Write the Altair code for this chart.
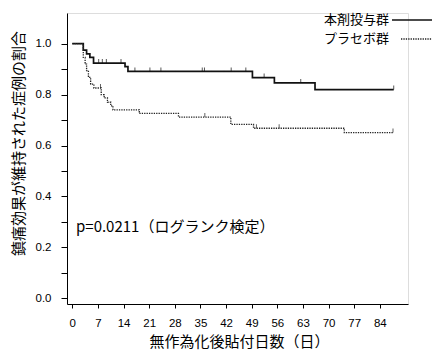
import altair as alt
import pandas as pd

groups = ["本剤投与群", "プラセボ群"]

drug_days = [0, 3.0, 3.9, 4.8, 5.8, 14.4, 15.2, 49.2, 55.2, 66.3, 87.8]
drug_surv = [1.0, 0.975, 0.960, 0.946, 0.924, 0.910, 0.891, 0.867, 0.846, 0.820, 0.820]
drug_cens_days = [7.2, 8.2, 9.3, 13.3, 17.1, 21.2, 24.2, 35.5, 36.1, 43.4, 47.4, 52.4, 62.4, 87.8]

placebo_days = [0, 3.0, 3.5, 3.9, 4.4, 5.0, 5.9, 7.9, 8.7, 9.6, 10.5, 11.1, 18.3, 29.0, 43.3, 49.5, 74.3, 87.6]
placebo_surv = [1.0, 0.946, 0.920, 0.894, 0.868, 0.841, 0.826, 0.800, 0.787, 0.770, 0.756, 0.740, 0.726, 0.712, 0.683, 0.668, 0.651, 0.651]
placebo_cens_days = [7.7, 36.2, 50.3, 56.5, 87.6]

x_ticks = [0, 7, 14, 21, 28, 35, 42, 49, 56, 63, 70, 77, 84]
y_ticks = [0.0, 0.1, 0.2, 0.3, 0.4, 0.5, 0.6, 0.7, 0.8, 0.9, 1.0]

p_text = "p=0.0211（ログランク検定）"
x_title = "無作為化後貼付日数（日）"
y_title = "鎮痛効果が維持された症例の割合"


def step_value(days, surv, d):
    v = surv[0]
    for dd, s in zip(days, surv):
        if dd <= d:
            v = s
    return v


curve = pd.DataFrame(
    [{"day": d, "surv": s, "group": groups[0]} for d, s in zip(drug_days, drug_surv)]
    + [{"day": d, "surv": s, "group": groups[1]} for d, s in zip(placebo_days, placebo_surv)]
)
cens = pd.DataFrame(
    [{"day": d, "surv": step_value(drug_days, drug_surv, d), "group": groups[0]} for d in drug_cens_days]
    + [{"day": d, "surv": step_value(placebo_days, placebo_surv, d), "group": groups[1]} for d in placebo_cens_days]
)

jp = "Noto Sans CJK JP"
xs = alt.Scale(domain=[-1.45, 91.7], nice=False, zero=False)
ys = alt.Scale(domain=[-0.0224, 1.1206], nice=False, zero=False)

x_axis = alt.Axis(
    values=x_ticks, title=x_title, grid=False, tickSize=4, labelPadding=9,
    labelOverlap=False, tickCount=13, labelBound=False, labelFlush=False,
    labelFont="Liberation Sans", labelFontSize=11.5, labelColor="#000",
    domainColor="#000", tickColor="#000", labelAngle=0,
    titleFont=jp, titleFontSize=15, titleFontWeight="normal", titleColor="#000",
    titleX=172, titleY=37, titleBaseline="middle", titleAlign="center",
)
y_axis = alt.Axis(
    values=y_ticks, title=y_title, grid=False, tickSize=6, labelPadding=10,
    labelOverlap=False,
    labelExpr="round(datum.value*10) % 2 == 0 ? format(datum.value, '.1f') : ''",
    labelFont="Liberation Sans", labelFontSize=11.5, labelColor="#000",
    domainColor="#000", tickColor="#000",
    titleFont=jp, titleFontSize=15, titleFontWeight="normal", titleColor="#000",
    titleX=-49, titleY=130, titleBaseline="middle", titleAlign="center",
)

color_scale = alt.Scale(domain=groups, range=["#111111", "#222222"])
dash_scale = alt.Scale(domain=groups, range=[[1, 0], [1.3, 1.1]])
width_scale = alt.Scale(domain=groups, range=[1.7, 1.3])

lines = alt.Chart(curve).mark_line(interpolate="step-after").encode(
    x=alt.X("day:Q", scale=xs, axis=x_axis),
    y=alt.Y("surv:Q", scale=ys, axis=y_axis),
    color=alt.Color("group:N", scale=color_scale, legend=None),
    strokeDash=alt.StrokeDash("group:N", scale=dash_scale, legend=None),
    strokeWidth=alt.StrokeWidth("group:N", scale=width_scale, legend=None),
    detail="group:N",
)

ticks = alt.Chart(cens).mark_tick(orient="vertical", size=4, thickness=1, yOffset=-2).encode(
    x=alt.X("day:Q", scale=xs, axis=x_axis),
    y=alt.Y("surv:Q", scale=ys, axis=y_axis),
    color=alt.Color("group:N", scale=color_scale, legend=None),
)

ptxt = alt.Chart(pd.DataFrame({"t": [p_text]})).mark_text(
    font=jp, fontSize=15, align="left", baseline="middle", color="#000"
).encode(x=alt.value(9), y=alt.value(214), text="t:N")

leg1_text = alt.Chart(pd.DataFrame({"t": [groups[0]]})).mark_text(
    font=jp, fontSize=13, align="right", baseline="middle", color="#000"
).encode(x=alt.value(322), y=alt.value(7), text="t:N")
leg2_text = alt.Chart(pd.DataFrame({"t": [groups[1]]})).mark_text(
    font=jp, fontSize=13, align="right", baseline="middle", color="#000"
).encode(x=alt.value(322), y=alt.value(26), text="t:N")
leg1_line = alt.Chart(pd.DataFrame({"g": [groups[0]]})).mark_rule(
    color="#111111", strokeWidth=1.7
).encode(x=alt.value(325), x2=alt.value(365), y=alt.value(7))
leg2_line = alt.Chart(pd.DataFrame({"g": [groups[1]]})).mark_rule(
    color="#222222", strokeWidth=1.3, strokeDash=[1.3, 1.1]
).encode(x=alt.value(334), x2=alt.value(365), y=alt.value(26))

chart = alt.layer(lines, ticks, ptxt, leg1_text, leg2_text, leg1_line, leg2_line).properties(
    width=341, height=291,
    autosize=alt.AutoSizeParams(type="none"),
    padding={"left": 59, "top": 5, "right": 25, "bottom": 46},
).configure_view(stroke=None).configure_axisX(labelOverlap=False).configure(background="white")

chart.save("out.html", embed_options={"renderer": "svg", "actions": False})
